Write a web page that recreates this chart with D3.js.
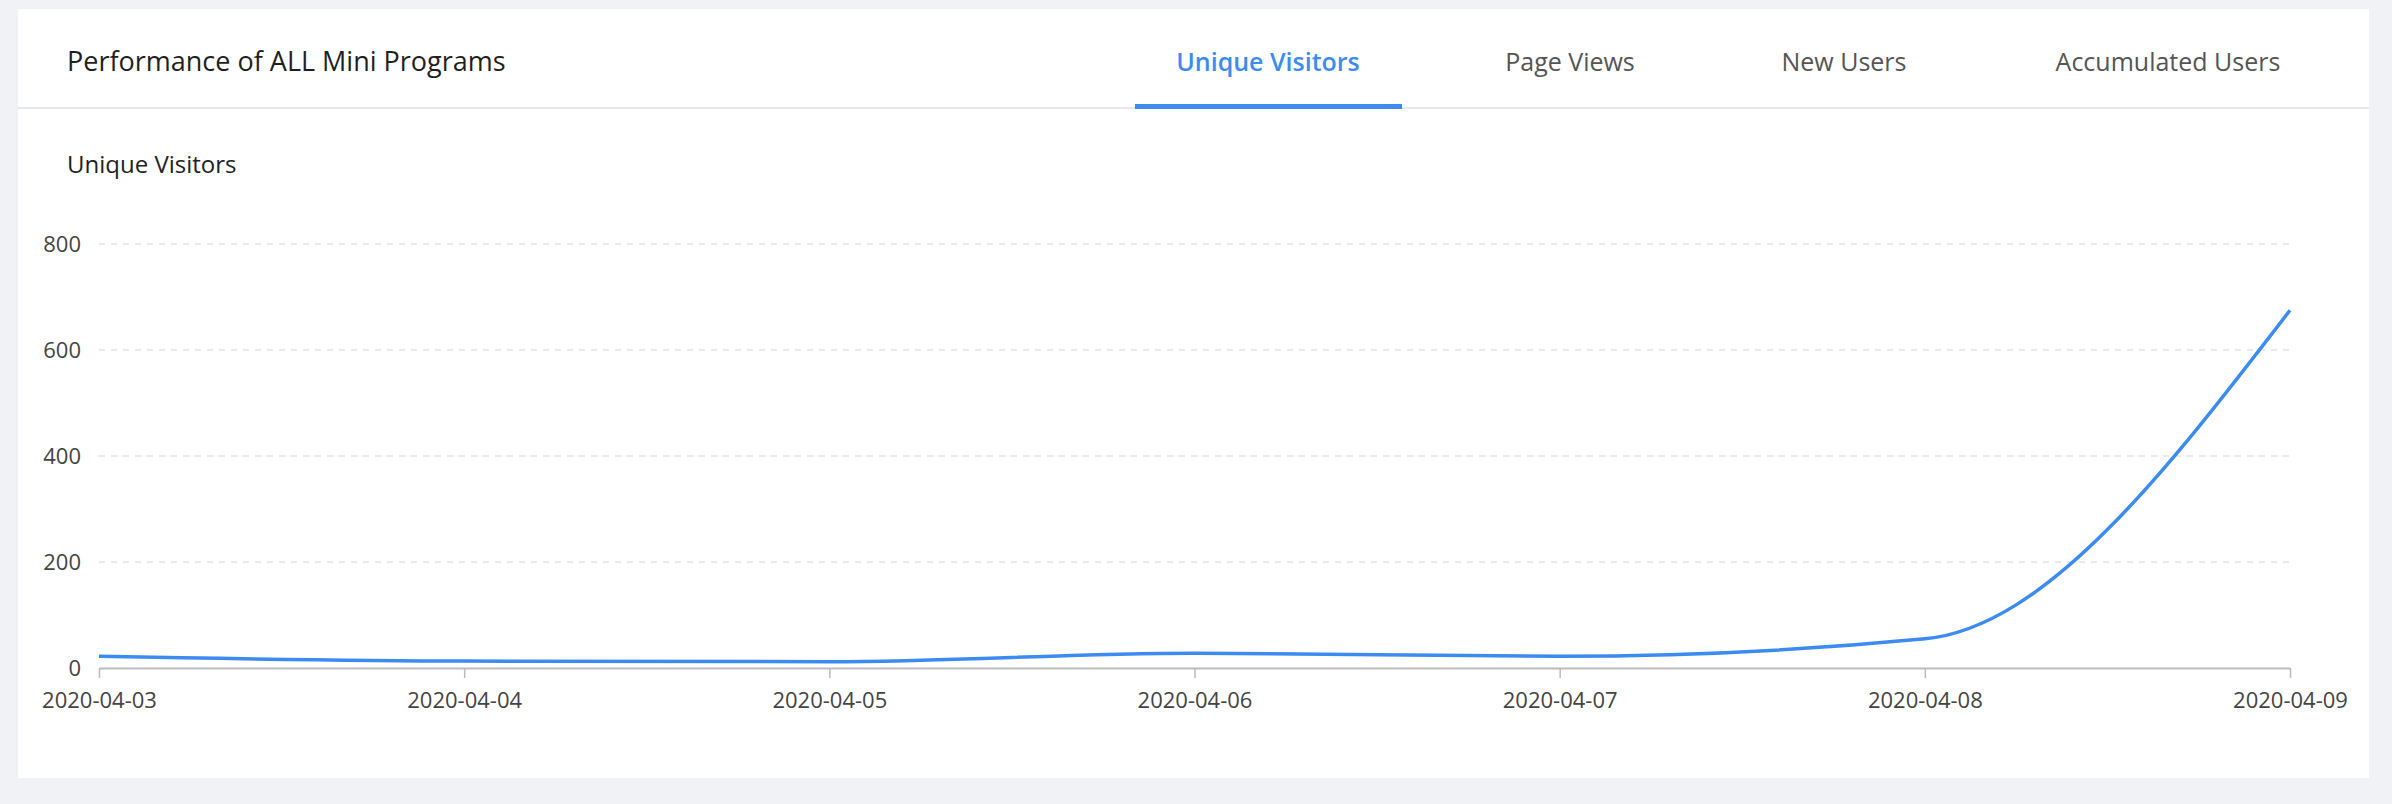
<!DOCTYPE html>
<html><head><meta charset="utf-8">
<script src="https://cdn.jsdelivr.net/npm/d3@7"></script>
<style>
body{margin:0;background:#f0f2f5;font-family:"Open Sans","Noto Sans",sans-serif;}
</style></head>
<body><svg id="c" width="2392" height="804"></svg>
<script>
var dates = ['2020-04-03','2020-04-04','2020-04-05','2020-04-06','2020-04-07','2020-04-08','2020-04-09'];
var visitors = [22, 13, 12, 28, 22, 55, 675];
var yTicks = [0, 200, 400, 600, 800];
var tabs = ['Unique Visitors', 'Page Views', 'New Users', 'Accumulated Users'];
var tabCenters = [1268, 1570, 1844, 2168];

var blue = '#3c8cf0';
var svg = d3.select('#c');
svg.append('rect').attr('x', 18).attr('y', 9).attr('width', 2351).attr('height', 769).attr('fill', '#fff');
svg.append('line').attr('x1', 18).attr('x2', 2369).attr('y1', 108).attr('y2', 108)
  .attr('stroke', '#e6e8eb').attr('stroke-width', 2);

svg.append('text').attr('x', 67).attr('y', 71).attr('font-size', 27).attr('fill', '#1f1f1f')
  .attr('font-weight', 500).text('Performance of ALL Mini Programs');

svg.selectAll('.tab').data(tabs).enter().append('text')
  .attr('x', (d, i) => tabCenters[i]).attr('y', 71).attr('text-anchor', 'middle')
  .attr('font-size', 25).attr('fill', (d, i) => i === 0 ? blue : '#555')
  .attr('font-weight', (d, i) => i === 0 ? 600 : 400).text(d => d);
svg.append('rect').attr('x', 1135).attr('y', 104).attr('width', 267).attr('height', 5).attr('fill', blue);

svg.append('text').attr('x', 67).attr('y', 173).attr('font-size', 24).attr('fill', '#222').text('Unique Visitors');

var x = d3.scalePoint().domain(dates).range([99, 2290]);
var y = d3.scaleLinear().domain([0, 800]).range([668, 244]);

svg.selectAll('.grid').data(yTicks.slice(1)).enter().append('line')
  .attr('x1', 99).attr('x2', 2290).attr('y1', d => y(d)).attr('y2', d => y(d))
  .attr('stroke', '#e3e3e3').attr('stroke-dasharray', '6,6').attr('stroke-width', 1.5);

var ya = svg.append('g').attr('transform', 'translate(99,0)')
  .call(d3.axisLeft(y).tickValues(yTicks).tickSize(0).tickPadding(18));
ya.select('.domain').remove();
ya.selectAll('text').attr('font-size', 22).attr('fill', '#444').attr('font-family', '"Open Sans",sans-serif');

var xa = svg.append('g').attr('transform', 'translate(0,668)')
  .call(d3.axisBottom(x).tickSize(10).tickPadding(14).tickSizeOuter(0));
xa.select('.domain').attr('stroke', '#bbb').attr('stroke-width', 2);
xa.selectAll('line').attr('stroke', '#bbb').attr('stroke-width', 1.5);
xa.selectAll('text').attr('font-size', 22).attr('fill', '#444').attr('font-family', '"Open Sans",sans-serif');

var line = d3.line().x((d, i) => x(dates[i])).y(d => y(d)).curve(d3.curveMonotoneX);
svg.append('path').datum(visitors).attr('d', line).attr('fill', 'none')
  .attr('stroke', blue).attr('stroke-width', 3.5);
</script></body></html>
